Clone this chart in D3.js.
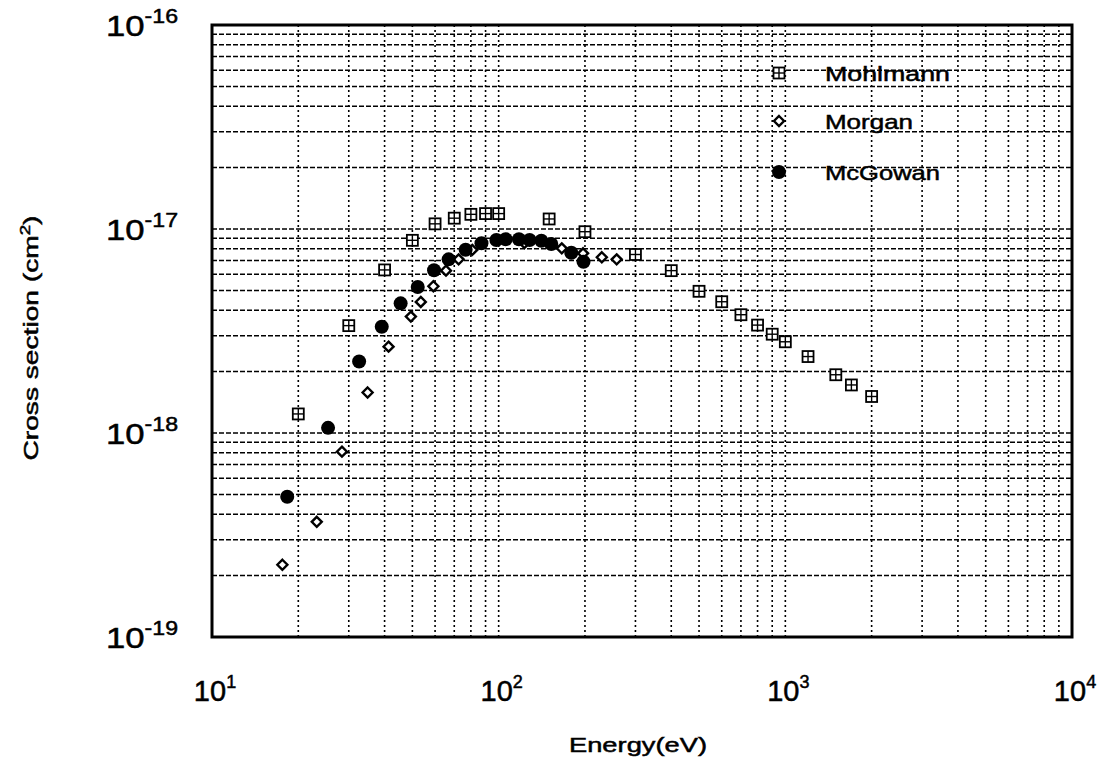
<!DOCTYPE html>
<html>
<head>
<meta charset="utf-8">
<script src="https://cdn.jsdelivr.net/npm/d3@7"></script>
<style>
body { margin: 0; background: #fff; }
text { font-family: "Liberation Sans", Arial, sans-serif; fill: #000; stroke: #000; stroke-width: 0.5px; }
</style>
</head>
<body>
<svg id="chart" width="1102" height="760"></svg>
<script>
// data (energy in eV, cross section in cm^2)
var mohlmann_e = [20, 30, 40, 50, 60, 70, 80, 90, 100, 150, 200, 300, 400, 500, 600, 700, 800, 900, 1000, 1200, 1500, 1700, 2000];
var mohlmann_s = [1.24e-18, 3.36e-18, 6.3e-18, 8.8e-18, 1.06e-17, 1.13e-17, 1.18e-17, 1.19e-17, 1.19e-17, 1.12e-17, 9.7e-18, 7.5e-18, 6.25e-18, 4.95e-18, 4.4e-18, 3.8e-18, 3.38e-18, 3.05e-18, 2.8e-18, 2.37e-18, 1.93e-18, 1.72e-18, 1.51e-18];

var morgan_e = [17.6, 23.2, 28.4, 34.9, 41.3, 49.4, 53.5, 59.2, 65.5, 72.5, 80.9, 123, 166, 197, 229, 258];
var morgan_s = [2.26e-19, 3.67e-19, 8.1e-19, 1.58e-18, 2.65e-18, 3.72e-18, 4.39e-18, 5.24e-18, 6.25e-18, 7.1e-18, 7.9e-18, 8.54e-18, 8.04e-18, 7.6e-18, 7.27e-18, 7.1e-18];

var mcgowan_e = [18.3, 25.4, 32.6, 39.1, 45.5, 52.2, 59.5, 66.9, 76.7, 87.1, 98.2, 105.8, 117.7, 128.2, 140.9, 152.6, 179.2, 197.7];
var mcgowan_s = [4.87e-19, 1.06e-18, 2.24e-18, 3.32e-18, 4.32e-18, 5.2e-18, 6.28e-18, 7.1e-18, 7.91e-18, 8.51e-18, 8.83e-18, 8.9e-18, 8.9e-18, 8.83e-18, 8.76e-18, 8.44e-18, 7.65e-18, 6.91e-18];

var x_exponents = [1, 2, 3, 4];
var y_exponents = [-16, -17, -18, -19];
var legend_names = ["Mohlmann", "Morgan", "McGowan"];
var legend_widths = [125, 88, 115];

var margin = {left: 212, top: 25, right: 30, bottom: 123};
var width = 1102 - margin.left - margin.right;
var height = 760 - margin.top - margin.bottom;

var svg = d3.select("#chart");
var g = svg.append("g").attr("transform", "translate(" + margin.left + "," + margin.top + ")");

var x_scale = d3.scaleLog().domain([10, 1e4]).range([0, width]);
var y_scale = d3.scaleLog().domain([1e-19, 1e-16]).range([height, 0]);

// grid: every 1..9 of each decade
var x_grid = [];
for (var d = 1; d <= 3; d++) {
    for (var m = 1; m <= 9; m++) {
        if (d == 1 && m == 1) continue;
        x_grid.push(m * Math.pow(10, d));
    }
}
var y_grid = [];
for (var d = -19; d <= -17; d++) {
    for (var m = 1; m <= 9; m++) {
        if (d == -19 && m == 1) continue;
        y_grid.push(m * Math.pow(10, d));
    }
}

g.selectAll("line.vgrid")
    .data(x_grid)
    .enter()
    .append("line")
    .attr("class", "vgrid")
    .attr("x1", function(d) { return x_scale(d); })
    .attr("x2", function(d) { return x_scale(d); })
    .attr("y1", 0)
    .attr("y2", height)
    .style("stroke", "#000")
    .style("stroke-width", 1.6)
    .style("stroke-dasharray", "2,3");

g.selectAll("line.hgrid")
    .data(y_grid)
    .enter()
    .append("line")
    .attr("class", "hgrid")
    .attr("x1", 0)
    .attr("x2", width)
    .attr("y1", function(d) { return y_scale(d); })
    .attr("y2", function(d) { return y_scale(d); })
    .style("stroke", "#000")
    .style("stroke-width", 1.5)
    .style("stroke-dasharray", "5,2");

// frame
g.append("rect")
    .attr("x", 0)
    .attr("y", 0)
    .attr("width", width)
    .attr("height", height)
    .style("fill", "none")
    .style("stroke", "#000")
    .style("stroke-width", 3);

// tick labels like 10^n
function powerLabel(sel, base_size, exp_size, exponent) {
    sel.append("tspan").text("10").style("font-size", base_size + "px");
    sel.append("tspan").text(exponent < 0 ? "-" + (-exponent) : exponent)
        .attr("dy", -base_size * 0.45)
        .style("font-size", exp_size + "px");
}

g.selectAll("text.xtick")
    .data(x_exponents)
    .enter()
    .append("text")
    .attr("class", "xtick")
    .attr("x", function(d) { return x_scale(Math.pow(10, d)) + 3; })
    .attr("y", height + 64)
    .attr("text-anchor", "middle")
    .each(function(d) { powerLabel(d3.select(this), 29, 18, d); });

g.selectAll("text.ytick")
    .data(y_exponents)
    .enter()
    .append("text")
    .attr("class", "ytick")
    .attr("x", -34)
    .attr("y", function(d) { return y_scale(Math.pow(10, d)) + 11; })
    .attr("text-anchor", "end")
    .attr("textLength", 72)
    .attr("lengthAdjust", "spacingAndGlyphs")
    .each(function(d) { powerLabel(d3.select(this), 30, 20, d); });

// axis titles
svg.append("text")
    .attr("x", margin.left + width / 2 - 4)
    .attr("y", 752)
    .attr("text-anchor", "middle")
    .attr("textLength", 138)
    .attr("lengthAdjust", "spacingAndGlyphs")
    .style("font-size", "21px")
    .text("Energy(eV)");

var ytitle = svg.append("text")
    .attr("transform", "translate(38,338) rotate(-90)")
    .attr("text-anchor", "middle")
    .attr("textLength", 245)
    .attr("lengthAdjust", "spacingAndGlyphs")
    .style("font-size", "21px");
ytitle.append("tspan").text("Cross section  (cm");
ytitle.append("tspan").text("2").attr("dy", -8).style("font-size", "14px");
ytitle.append("tspan").text(")").attr("dy", 8);

// markers
function drawSquare(sel) {
    sel.append("rect").attr("x", -5.5).attr("y", -5.5).attr("width", 11).attr("height", 11)
        .style("fill", "#fff").style("stroke", "#000").style("stroke-width", 1.8);
    sel.append("line").attr("x1", -5.5).attr("x2", 5.5).attr("y1", 0).attr("y2", 0)
        .style("stroke", "#000").style("stroke-width", 1.4);
    sel.append("line").attr("x1", 0).attr("x2", 0).attr("y1", -5.5).attr("y2", 5.5)
        .style("stroke", "#000").style("stroke-width", 1.4);
}

function drawDiamond(sel) {
    sel.append("path").attr("d", "M0,-5L5,0L0,5L-5,0Z")
        .style("fill", "#fff").style("stroke", "#000").style("stroke-width", 2.4);
}

function drawDot(sel) {
    sel.append("circle").attr("r", 7).style("fill", "#000");
}

function plotSeries(xs, ys, draw) {
    var pts = xs.map(function(v, i) { return [v, ys[i]]; });
    g.append("g").selectAll("g")
        .data(pts)
        .enter()
        .append("g")
        .attr("transform", function(d) { return "translate(" + x_scale(d[0]) + "," + y_scale(d[1]) + ")"; })
        .each(function() { draw(d3.select(this)); });
}

plotSeries(morgan_e, morgan_s, drawDiamond);
plotSeries(mohlmann_e, mohlmann_s, drawSquare);
plotSeries(mcgowan_e, mcgowan_s, drawDot);

// legend
var drawers = [drawSquare, drawDiamond, drawDot];
var legend_y = [48, 96, 147];
legend_names.forEach(function(name, i) {
    var lg = g.append("g").attr("transform", "translate(567," + legend_y[i] + ")");
    drawers[i](lg.append("g"));
    lg.append("text")
        .attr("x", 46)
        .attr("y", 8)
        .attr("textLength", legend_widths[i])
        .attr("lengthAdjust", "spacingAndGlyphs")
        .style("font-size", "21px")
        .text(name);
});
</script>
</body>
</html>
